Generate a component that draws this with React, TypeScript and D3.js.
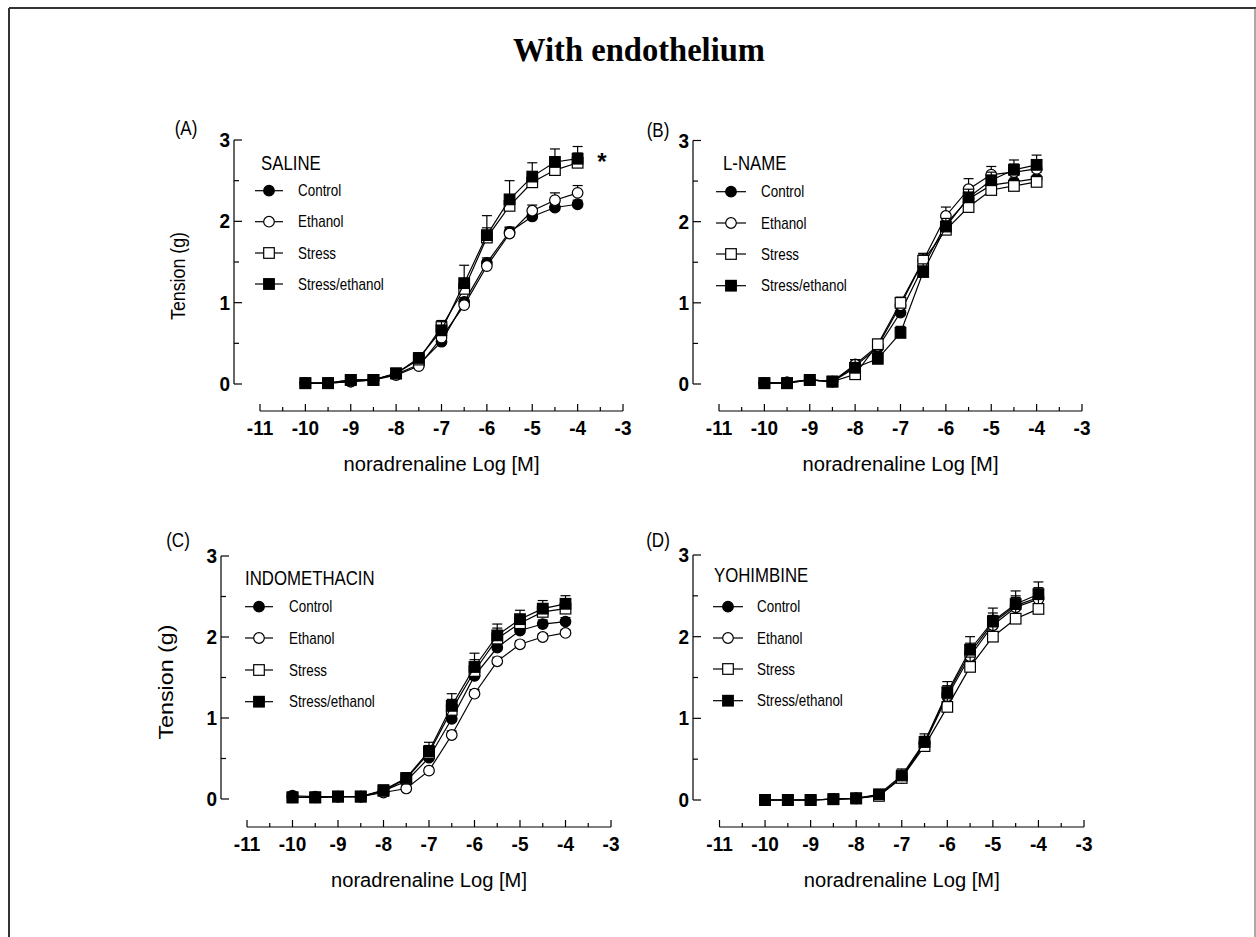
import React from 'react';
import * as d3 from 'd3';

// noradrenaline concentrations, log [M]
const doses = [-10, -9.5, -9, -8.5, -8, -7.5, -7, -6.5, -6, -5.5, -5, -4.5, -4];
const groups = ['Control', 'Ethanol', 'Stress', 'Stress/ethanol'];
const xTicks = [-11, -10, -9, -8, -7, -6, -5, -4, -3];
const xMinor = [-10.5, -9.5, -8.5, -7.5, -6.5, -5.5, -4.5, -3.5];
const yTicks = [0, 1, 2, 3];
const yMinor = [0.5, 1.5, 2.5];

// (A) saline
const salineControl = [0.01, 0.01, 0.03, 0.05, 0.12, 0.24, 0.52, 1.01, 1.49, 1.87, 2.06, 2.17, 2.21];
const salineEthanol = [0.01, 0.01, 0.03, 0.05, 0.11, 0.22, 0.57, 0.97, 1.45, 1.85, 2.13, 2.26, 2.35];
const salineStress = [0.01, 0.01, 0.05, 0.05, 0.13, 0.3, 0.7, 1.17, 1.8, 2.19, 2.48, 2.63, 2.72];
const salineStressEth = [0.01, 0.01, 0.05, 0.05, 0.13, 0.32, 0.66, 1.24, 1.83, 2.27, 2.55, 2.73, 2.77];
const salineControlSem = [0.01, 0.01, 0.01, 0.01, 0.02, 0.03, 0.05, 0.05, 0.06, 0.05, 0.05, 0.05, 0.05];
const salineEthanolSem = [0.01, 0.01, 0.01, 0.01, 0.02, 0.03, 0.05, 0.06, 0.07, 0.08, 0.07, 0.09, 0.09];
const salineStressSem = [0.01, 0.01, 0.01, 0.01, 0.02, 0.05, 0.08, 0.12, 0.12, 0.12, 0.12, 0.12, 0.12];
const salineStressEthSem = [0.01, 0.01, 0.01, 0.01, 0.03, 0.06, 0.12, 0.22, 0.24, 0.23, 0.17, 0.16, 0.15];

// (B) L-NAME
const lnameControl = [0.01, 0.02, 0.05, 0.03, 0.22, 0.45, 0.88, 1.45, 1.97, 2.28, 2.45, 2.49, 2.53];
const lnameEthanol = [0.01, 0.02, 0.05, 0.03, 0.24, 0.47, 0.97, 1.52, 2.07, 2.4, 2.58, 2.61, 2.65];
const lnameStress = [0.01, 0.01, 0.05, 0.03, 0.12, 0.49, 1.0, 1.52, 1.9, 2.18, 2.39, 2.44, 2.49];
const lnameStressEth = [0.01, 0.01, 0.05, 0.03, 0.2, 0.31, 0.63, 1.38, 1.94, 2.3, 2.51, 2.64, 2.7];
const lnameControlSem = [0.01, 0.01, 0.01, 0.01, 0.05, 0.06, 0.08, 0.07, 0.08, 0.08, 0.07, 0.08, 0.08];
const lnameEthanolSem = [0.01, 0.01, 0.01, 0.01, 0.06, 0.07, 0.09, 0.09, 0.11, 0.13, 0.1, 0.1, 0.1];
const lnameStressSem = [0.01, 0.01, 0.01, 0.01, 0.05, 0.06, 0.07, 0.08, 0.08, 0.08, 0.08, 0.08, 0.08];
const lnameStressEthSem = [0.01, 0.01, 0.01, 0.01, 0.1, 0.08, 0.08, 0.1, 0.1, 0.1, 0.1, 0.12, 0.12];

// (C) indomethacin
const indoControl = [0.04, 0.03, 0.03, 0.03, 0.1, 0.22, 0.51, 0.99, 1.52, 1.87, 2.08, 2.16, 2.19];
const indoEthanol = [0.02, 0.02, 0.03, 0.03, 0.08, 0.13, 0.35, 0.79, 1.3, 1.7, 1.91, 2.0, 2.05];
const indoStress = [0.02, 0.02, 0.03, 0.03, 0.1, 0.25, 0.57, 1.1, 1.58, 1.98, 2.17, 2.31, 2.35];
const indoStressEth = [0.02, 0.02, 0.03, 0.03, 0.11, 0.26, 0.59, 1.15, 1.63, 2.02, 2.22, 2.35, 2.41];
const indoControlSem = [0.01, 0.01, 0.01, 0.01, 0.02, 0.03, 0.05, 0.06, 0.06, 0.06, 0.05, 0.05, 0.05];
const indoEthanolSem = [0.01, 0.01, 0.01, 0.01, 0.02, 0.03, 0.04, 0.05, 0.05, 0.05, 0.04, 0.04, 0.04];
const indoStressSem = [0.01, 0.01, 0.01, 0.01, 0.02, 0.04, 0.09, 0.13, 0.14, 0.13, 0.1, 0.09, 0.09];
const indoStressEthSem = [0.01, 0.01, 0.01, 0.01, 0.03, 0.05, 0.11, 0.15, 0.17, 0.14, 0.11, 0.1, 0.1];

// (D) yohimbine
const yohControl = [0.0, 0.0, 0.0, 0.01, 0.02, 0.06, 0.28, 0.7, 1.3, 1.8, 2.17, 2.38, 2.48];
const yohEthanol = [0.0, 0.0, 0.0, 0.01, 0.02, 0.06, 0.27, 0.69, 1.27, 1.76, 2.14, 2.36, 2.46];
const yohStress = [0.0, 0.0, 0.0, 0.01, 0.02, 0.05, 0.27, 0.66, 1.14, 1.63, 2.0, 2.22, 2.34];
const yohStressEth = [0.0, 0.0, 0.0, 0.01, 0.02, 0.07, 0.3, 0.71, 1.32, 1.84, 2.19, 2.4, 2.52];
const yohControlSem = [0.0, 0.0, 0.0, 0.0, 0.01, 0.02, 0.06, 0.08, 0.1, 0.12, 0.12, 0.12, 0.12];
const yohEthanolSem = [0.0, 0.0, 0.0, 0.0, 0.01, 0.02, 0.06, 0.08, 0.1, 0.12, 0.12, 0.12, 0.12];
const yohStressSem = [0.0, 0.0, 0.0, 0.0, 0.01, 0.02, 0.06, 0.08, 0.1, 0.12, 0.12, 0.12, 0.12];
const yohStressEthSem = [0.0, 0.0, 0.0, 0.0, 0.01, 0.02, 0.08, 0.1, 0.13, 0.16, 0.16, 0.16, 0.15];

const SANS = '"Liberation Sans", Arial, sans-serif';

const panels = [
  {
    label: '(A)', labelX: 186, labelY: 135, name: 'SALINE',
    yAxisX: 234, x0: 260, x1: 623, y0: 384, y3: 140, xAxisY: 411,
    legLine: [255, 283], legTitle: [261, 170], legRows: [190.7, 221.7, 253, 284], legText: 298,
    yTitle: [185, 276, 88], star: true,
    means: [salineControl, salineEthanol, salineStress, salineStressEth],
    sems: [salineControlSem, salineEthanolSem, salineStressSem, salineStressEthSem],
  },
  {
    label: '(B)', labelX: 658, labelY: 137, name: 'L-NAME',
    yAxisX: 693, x0: 719, x1: 1082, y0: 384, y3: 140.5, xAxisY: 411,
    legLine: [716, 746], legTitle: [723, 170], legRows: [191.7, 223, 254, 285.7], legText: 761,
    yTitle: null, star: false,
    means: [lnameControl, lnameEthanol, lnameStress, lnameStressEth],
    sems: [lnameControlSem, lnameEthanolSem, lnameStressSem, lnameStressEthSem],
  },
  {
    label: '(C)', labelX: 178, labelY: 547, name: 'INDOMETHACIN',
    yAxisX: 221, x0: 247, x1: 611, y0: 799, y3: 556, xAxisY: 827,
    legLine: [245, 273], legTitle: [245, 585], legRows: [606.7, 638, 670, 701.7], legText: 289,
    yTitle: [173, 682, 115], star: false,
    means: [indoControl, indoEthanol, indoStress, indoStressEth],
    sems: [indoControlSem, indoEthanolSem, indoStressSem, indoStressEthSem],
  },
  {
    label: '(D)', labelX: 658, labelY: 547, name: 'YOHIMBINE',
    yAxisX: 693, x0: 719.5, x1: 1084, y0: 800, y3: 555, xAxisY: 827,
    legLine: [713, 743], legTitle: [714, 582], legRows: [606.7, 638, 669, 700.7], legText: 757,
    yTitle: null, star: false,
    means: [yohControl, yohEthanol, yohStress, yohStressEth],
    sems: [yohControlSem, yohEthanolSem, yohStressSem, yohStressEthSem],
  },
];

const Marker = ({ kind, cx, cy }) => {
  if (kind === 0 || kind === 1) {
    return <circle cx={cx} cy={cy} r={5.3} fill={kind === 0 ? '#000' : '#fff'} stroke="#000" strokeWidth={1.2} />;
  }
  return (
    <rect x={cx - 5.3} y={cy - 5.3} width={10.6} height={10.6}
      fill={kind === 3 ? '#000' : '#fff'} stroke="#000" strokeWidth={1.2} />
  );
};

const Txt = ({ x, y, sx = 1, children, ...rest }) => (
  <text transform={`translate(${x},${y}) scale(${sx},1)`} fontFamily={SANS} {...rest}>{children}</text>
);

function Panel({ p }) {
  const x = d3.scaleLinear().domain([-11, -3]).range([p.x0, p.x1]);
  const y = d3.scaleLinear().domain([0, 3]).range([p.y0, p.y3]);
  const line = d3.line<number>().x((_, i) => x(doses[i])).y(d => y(d));
  const order = [0, 1, 2, 3];

  return (
    <g>
      <Txt x={p.labelX} y={p.labelY} sx={0.85} fontSize={20} textAnchor="middle">{p.label}</Txt>

      {/* y axis */}
      <line x1={p.yAxisX} x2={p.yAxisX} y1={y(0)} y2={y(3)} stroke="#000" strokeWidth={1.2} />
      {yTicks.map(t => (
        <g key={t}>
          <line x1={p.yAxisX} x2={p.yAxisX + 8} y1={y(t)} y2={y(t)} stroke="#000" strokeWidth={1.2} />
          <Txt x={p.yAxisX - 4} y={y(t) + 7} sx={0.95} fontSize={20} fontWeight="bold" textAnchor="end">{t}</Txt>
        </g>
      ))}
      {yMinor.map(t => (
        <line key={t} x1={p.yAxisX} x2={p.yAxisX + 5} y1={y(t)} y2={y(t)} stroke="#000" strokeWidth={1.2} />
      ))}
      {p.yTitle && (
        <text transform={`translate(${p.yTitle[0]},${p.yTitle[1]}) rotate(-90)`} fontFamily={SANS}
          fontSize={21} textAnchor="middle" textLength={p.yTitle[2]} lengthAdjust="spacingAndGlyphs">
          Tension (g)
        </text>
      )}

      {/* x axis */}
      <line x1={x(-11)} x2={x(-3)} y1={p.xAxisY} y2={p.xAxisY} stroke="#000" strokeWidth={1.2} />
      {xTicks.map(t => (
        <g key={t}>
          <line x1={x(t)} x2={x(t)} y1={p.xAxisY} y2={p.xAxisY - 7} stroke="#000" strokeWidth={1.2} />
          <Txt x={x(t)} y={p.xAxisY + 24} sx={0.95} fontSize={20} fontWeight="bold" textAnchor="middle">{t}</Txt>
        </g>
      ))}
      {xMinor.map(t => (
        <line key={t} x1={x(t)} x2={x(t)} y1={p.xAxisY} y2={p.xAxisY - 4} stroke="#000" strokeWidth={1.2} />
      ))}
      <text x={(x(-11) + x(-3)) / 2} y={p.xAxisY + 60} fontFamily={SANS} fontSize={20} textAnchor="middle"
        textLength={196} lengthAdjust="spacingAndGlyphs">
        noradrenaline Log [M]
      </text>

      {/* data */}
      {order.map(s => (
        <g key={s}>
          <path d={line(p.means[s]) || ''} fill="none" stroke="#000" strokeWidth={1.2} />
          {p.means[s].map((m, i) => {
            const top = y(m + p.sems[s][i]);
            const xc = x(doses[i]);
            return (
              <g key={i}>
                <line x1={xc} x2={xc} y1={y(m)} y2={top} stroke="#000" strokeWidth={1.2} />
                <line x1={xc - 5} x2={xc + 5} y1={top} y2={top} stroke="#000" strokeWidth={1.2} />
              </g>
            );
          })}
          {p.means[s].map((m, i) => (
            <Marker key={i} kind={s} cx={x(doses[i])} cy={y(m)} />
          ))}
        </g>
      ))}

      {/* legend */}
      <Txt x={p.legTitle[0]} y={p.legTitle[1]} sx={0.84} fontSize={20}>{p.name}</Txt>
      {groups.map((g, s) => {
        const ry = p.legRows[s];
        const mx = (p.legLine[0] + p.legLine[1]) / 2;
        return (
          <g key={g}>
            <line x1={p.legLine[0]} x2={p.legLine[1]} y1={ry} y2={ry} stroke="#000" strokeWidth={1.2} />
            <Marker kind={s} cx={mx} cy={ry} />
            <Txt x={p.legText} y={ry + 5.7} sx={0.84} fontSize={16}>{g}</Txt>
          </g>
        );
      })}

      {p.star && (
        <Txt x={602} y={170} fontSize={24} fontWeight="bold" textAnchor="middle">*</Txt>
      )}
    </g>
  );
}

export default function App() {
  return (
    <div style={{ position: 'absolute', left: 0, top: 0, background: '#fff' }}>
      <svg width={1256} height={937} style={{ display: 'block', background: '#fff' }}>
        <line x1={9} x2={1256} y1={8} y2={8} stroke="#333" strokeWidth={2} />
        <line x1={9} x2={9} y1={8} y2={937} stroke="#333" strokeWidth={2} />
        <line x1={1255} x2={1255} y1={8} y2={937} stroke="#555" strokeWidth={1} />
        <text x={639} y={61} fontFamily='"Liberation Serif", "Times New Roman", serif' fontSize={34}
          fontWeight="bold" textAnchor="middle" textLength={252} lengthAdjust="spacingAndGlyphs">
          With endothelium
        </text>
        {panels.map(p => <Panel key={p.label} p={p} />)}
      </svg>
    </div>
  );
}
